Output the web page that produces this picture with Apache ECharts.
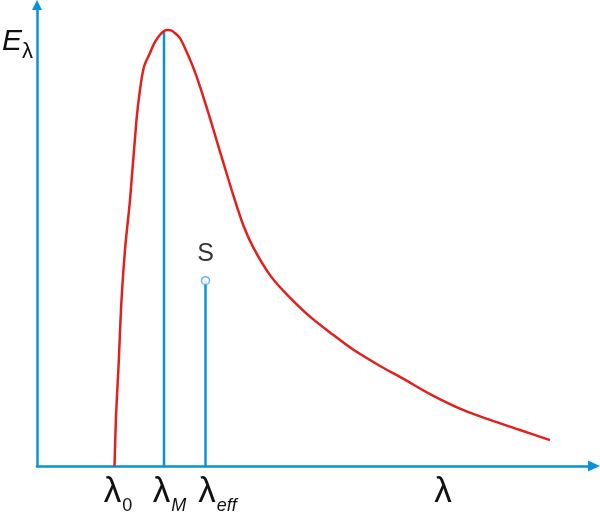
<!DOCTYPE html>
<html>
<head>
<meta charset="utf-8">
<script src="https://cdn.jsdelivr.net/npm/echarts@6/dist/echarts.min.js"></script>
<style>
html,body{margin:0;padding:0;background:#fff;}
#chart{width:600px;height:516px;}
</style>
</head>
<body>
<div id="chart"></div>
<script>
// Spectral curve E(λ), arbitrary units
const curveX = [15.5, 15.8, 16.3, 16.9, 17.6, 18.6, 19.9, 20.6, 21.4, 22.6, 23.6, 24.9, 25.9, 26.8, 27.6, 28.6, 29.9, 31.3, 32.6, 33.9, 35.3, 37.3, 39.3, 41.3, 43.3, 46.6, 49.9, 54.6, 59.3, 63.3, 68.6, 73.3, 78.6, 85.3, 90.6, 96.6, 102.6];
const curveY = [0, 10.7, 21.5, 36.0, 46.9, 57.7, 75.1, 81.6, 86.6, 89.6, 92.0, 93.9, 94.6, 94.5, 93.9, 92.8, 89.9, 86.3, 82.3, 77.9, 72.9, 65.7, 58.6, 52.1, 47.3, 41.4, 37.3, 32.4, 28.4, 25.2, 21.7, 18.9, 15.6, 12.1, 10.0, 7.8, 5.6];
// Marked wavelengths
const lambdaM = 25.4, peakE = 94.4;
const lambdaEff = 33.7, sValue = 40.2;
const sLabel = 'S';
// Tick labels on the λ axis
const tickValues = [15.5, 25.4, 33.7, 81.2];
const tickMain = ['λ', 'λ', 'λ', 'λ'];
const tickSub = ['0', 'M', 'eff', ''];
const tickSubStyle = ['sn', 'si', 'si', 'sn'];
const yName = ['E', 'λ'];

const blue = '#0a92d8';
const red = '#e3201b';
const font = 'Liberation Sans, Arial, sans-serif';

const padW = [7, 11, 24, 0];
const rich = {
  l: { fontSize: 35, fontFamily: font, color: '#111', lineHeight: 42 },
  sn: { fontSize: 18, fontFamily: font, color: '#111', lineHeight: 14, padding: [28, 0, 0, 1] },
  si: { fontSize: 18, fontFamily: font, color: '#111', fontStyle: 'italic', lineHeight: 14, padding: [28, 0, 0, 1] }
};
padW.forEach((w, i) => { rich['p' + i] = { width: w, lineHeight: 14 }; });

const chart = echarts.init(document.getElementById('chart'));
chart.setOption({
  animation: false,
  backgroundColor: '#fff',
  grid: { left: 37, right: 6, top: 5, bottom: 50, containLabel: false, outerBoundsMode: 'none' },
  xAxis: {
    type: 'value', min: 0, max: 111.4,
    axisLine: { show: true, symbol: ['none', 'triangle'], symbolSize: [11, 12], lineStyle: { color: blue, width: 2.5 } },
    axisTick: { show: false },
    splitLine: { show: false },
    axisLabel: {
      show: true,
      customValues: tickValues,
      margin: 5,
      formatter: function (v, i) {
        const k = tickValues.indexOf(v);
        const idx = k >= 0 ? k : i;
        let s = '';
        if (padW[idx]) s += '{p' + idx + '| }';
        s += '{l|' + tickMain[idx] + '}';
        if (tickSub[idx]) s += '{' + tickSubStyle[idx] + '|' + tickSub[idx] + '}';
        return s;
      },
      rich: rich
    }
  },
  yAxis: {
    type: 'value', min: 0, max: 100,
    name: '{e|' + yName[0] + '}{s|' + yName[1] + '}',
    nameLocation: 'end',
    nameGap: -37,
    nameTextStyle: {
      align: 'right', verticalAlign: 'middle', padding: [0, 4, 0, 0],
      rich: {
        e: { fontSize: 30, fontStyle: 'italic', fontFamily: font, color: '#111', lineHeight: 32 },
        s: { fontSize: 22, fontFamily: font, color: '#111', lineHeight: 16, padding: [20, 0, 0, 0] }
      }
    },
    axisLine: { show: true, symbol: ['none', 'triangle'], symbolSize: [10, 10], lineStyle: { color: blue, width: 2.5 } },
    axisTick: { show: false },
    axisLabel: { show: false },
    splitLine: { show: false }
  },
  series: [
    {
      type: 'line', data: curveX.map((x, i) => [x, curveY[i]]),
      smooth: 0.3, showSymbol: false, symbol: 'none',
      lineStyle: { color: red, width: 2.5 }, z: 3
    },
    {
      type: 'line', data: [[lambdaM, 0], [lambdaM, peakE]],
      showSymbol: false, symbol: 'none',
      lineStyle: { color: blue, width: 2.5 }, z: 2
    },
    {
      type: 'line', data: [[lambdaEff, 0], [lambdaEff, sValue]],
      showSymbol: false, symbol: 'none',
      lineStyle: { color: blue, width: 2.5 }, z: 2
    },
    {
      type: 'scatter', data: [[lambdaEff, sValue]],
      symbol: 'circle', symbolSize: 8,
      itemStyle: { color: '#fff', borderColor: '#3aa8e6', borderWidth: 1.5 },
      label: { show: true, position: 'top', distance: 9, formatter: sLabel, fontSize: 25, fontFamily: font, color: '#000' },
      z: 5
    }
  ]
});
</script>
</body>
</html>
